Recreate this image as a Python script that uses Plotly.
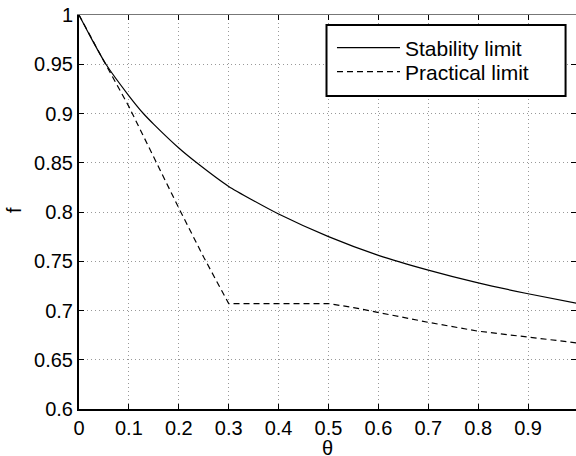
import plotly.graph_objects as go

# Stability limit
theta_stab = [0, 0.025, 0.054, 0.1, 0.129, 0.15, 0.2, 0.236, 0.3, 0.35, 0.4, 0.5, 0.6, 0.7, 0.8, 0.9, 1.0]
f_stab = [1.0, 0.976, 0.95, 0.918, 0.9, 0.889, 0.865, 0.85, 0.826, 0.8115, 0.798, 0.775, 0.756, 0.741, 0.728, 0.717, 0.707]

# Practical limit
theta_prac = [0, 0.025, 0.05, 0.1, 0.15, 0.2, 0.25, 0.3, 0.4, 0.5, 0.55, 0.6, 0.7, 0.8, 0.9, 1.0]
f_prac = [1.0, 0.976, 0.953, 0.907, 0.855, 0.804, 0.754, 0.707, 0.707, 0.707, 0.703, 0.698, 0.688, 0.679, 0.673, 0.667]

x_ticks = [0, 0.1, 0.2, 0.3, 0.4, 0.5, 0.6, 0.7, 0.8, 0.9, 1.0]
y_ticks = [0.6, 0.65, 0.7, 0.75, 0.8, 0.85, 0.9, 0.95, 1.0]
y_ticklabels = ["0.6", "0.65", "0.7", "0.75", "0.8", "0.85", "0.9", "0.95", "1"]
x_ticklabels = ["0", "0.1", "0.2", "0.3", "0.4", "0.5", "0.6", "0.7", "0.8", "0.9", "1"]
x_title = "θ"
y_title = "f"

FONT = "Liberation Sans, Arial, Helvetica, sans-serif"
GRID = dict(showgrid=True, gridcolor="#999", griddash="1px,3px", gridwidth=1)

fig = go.Figure()
fig.add_trace(go.Scatter(x=theta_stab, y=f_stab, mode="lines", name="Stability limit",
                         legend="legend",
                         line=dict(color="black", width=1.2, shape="spline", smoothing=0.6)))
fig.add_trace(go.Scatter(x=theta_prac, y=f_prac, mode="lines", name="Practical limit",
                         legend="legend2",
                         line=dict(color="black", width=1.2, dash="6px,4px")))
# empty trace to host the mirror axes
fig.add_trace(go.Scatter(x=[None], y=[None], xaxis="x2", yaxis="y2", showlegend=False,
                         hoverinfo="skip"))

leg_common = dict(xanchor="left", yanchor="middle", bgcolor="rgba(0,0,0,0)",
                  borderwidth=0, itemwidth=63, font=dict(size=21, family=FONT))

fig.update_layout(
    width=576, height=456,
    margin=dict(l=79, r=0, t=15, b=47, autoexpand=False),
    paper_bgcolor="white", plot_bgcolor="white",
    font=dict(family=FONT, size=20, color="black"),
    showlegend=True,
    legend=dict(x=0.509, y=0.9162, **leg_common),
    legend2=dict(x=0.509, y=0.8553, **leg_common),
    xaxis=dict(range=[0, 0.996], tickvals=x_ticks, ticktext=x_ticklabels,
               ticks="inside", ticklen=5, tickwidth=1, tickcolor="black",
               showline=True, linecolor="black", linewidth=2, automargin=False,
               zeroline=False, tickfont=dict(size=20), **GRID),
    yaxis=dict(range=[0.6, 1.0], tickvals=y_ticks, ticktext=y_ticklabels,
               ticks="inside", ticklen=5, tickwidth=1, tickcolor="black",
               showline=True, linecolor="black", linewidth=2, automargin=False,
               zeroline=False, tickfont=dict(size=20), **GRID),
    xaxis2=dict(overlaying="x", matches="x", side="top", anchor="y2",
                tickvals=x_ticks, ticks="inside", ticklen=5, tickcolor="black",
                showticklabels=False, showgrid=False, zeroline=False, automargin=False,
                showline=True, linecolor="#777", linewidth=1),
    yaxis2=dict(overlaying="y", matches="y", side="right", anchor="x2",
                tickvals=y_ticks, ticks="inside", ticklen=5, tickcolor="black",
                showticklabels=False, showgrid=False, zeroline=False, showline=False,
                automargin=False),
    shapes=[dict(type="rect", xref="paper", yref="paper",
                 x0=0.498, x1=0.979, y0=0.7944, y1=0.9746,
                 line=dict(color="black", width=2), fillcolor="white", layer="above")],
    annotations=[
        dict(text=x_title, xref="paper", yref="paper", x=0.501, y=-0.098,
             xanchor="center", yanchor="middle", showarrow=False,
             font=dict(size=20, family=FONT)),
        dict(text=y_title, xref="paper", yref="paper", x=-0.131, y=0.505,
             xanchor="center", yanchor="middle", showarrow=False, textangle=-90,
             font=dict(size=20, family=FONT)),
    ],
)

fig.write_html("out.html")
